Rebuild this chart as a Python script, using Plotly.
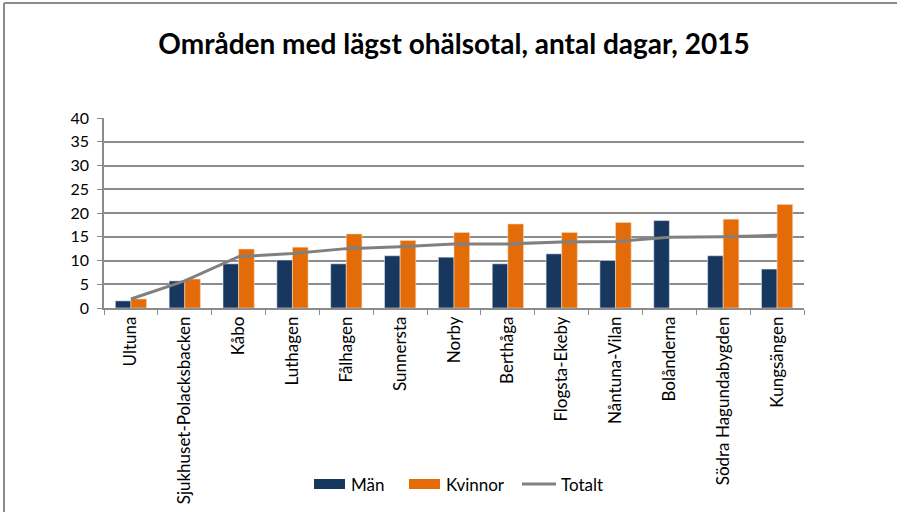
import plotly.graph_objects as go

categories = ["Ultuna", "Sjukhuset-Polacksbacken", "Kåbo", "Luthagen", "Fålhagen",
              "Sunnersta", "Norby", "Berthåga", "Flogsta-Ekeby", "Nåntuna-Vilan",
              "Bolånderna", "Södra Hagundabygden", "Kungsängen"]
man = [1.5, 5.7, 9.3, 10.1, 9.3, 11.0, 10.7, 9.3, 11.4, 10.0, 18.4, 11.0, 8.2]
kvinnor = [1.9, 6.1, 12.4, 12.8, 15.6, 14.2, 15.9, 17.7, 15.9, 18.0, None, 18.7, 21.8]
totalt = [1.9, 5.7, 10.8, 11.5, 12.5, 12.9, 13.5, 13.5, 13.9, 14.0, 14.9, 15.0, 15.3]
y_ticks = [0, 5, 10, 15, 20, 25, 30, 35, 40]

FONT = "Lato"
C_MAN = "#17375E"
C_KV = "#E36C09"
C_TOT = "#808080"

# plot area in pixels
L, R, T, B = 104, 804, 118, 308
W, H = R - L, B - T


def px(x):
    return (x - L) / W


def py(y):
    return (B - y) / H


fig = go.Figure()
fig.add_trace(go.Bar(name="Män", x=categories, y=man,
                     marker=dict(color=C_MAN, line=dict(color="#dfe6ee", width=0.6))))
fig.add_trace(go.Bar(name="Kvinnor", x=categories, y=kvinnor,
                     marker=dict(color=C_KV, line=dict(color="#f5d5bb", width=0.6))))
fig.add_trace(go.Scatter(name="Totalt", x=categories, y=totalt, mode="lines",
                         line=dict(color=C_TOT, width=3)))

fig.update_layout(
    width=897, height=512,
    paper_bgcolor="white", plot_bgcolor="white",
    margin=dict(l=L, r=897 - R, t=T, b=512 - B),
    barmode="group", bargap=0.42, bargroupgap=0,
    font=dict(family=FONT, size=14, color="black"),
    title=dict(text="<b>Områden med lägst ohälsotal, antal dagar, 2015</b>",
               x=0.5, xanchor="center", xref="paper", y=1 - 44 / 512, yanchor="middle",
               yref="container", font=dict(family=FONT, size=28, color="black")),
    showlegend=False,
)
fig.update_xaxes(type="category", showline=True, linecolor="#8c8c8c", linewidth=1.5,
                 ticks="outside", tickson="boundaries", ticklen=5, tickcolor="#8c8c8c",
                 tickangle=-90, showgrid=False, automargin=False,
                 tickfont=dict(family=FONT, size=17))
fig.update_yaxes(range=[0, 40], tickvals=y_ticks, showline=True, linecolor="#8c8c8c", linewidth=1.5,
                 ticks="outside", ticklen=5, tickcolor="#8c8c8c", automargin=False,
                 ticklabelstandoff=5,
                 showgrid=True, gridcolor="#8c8c8c", gridwidth=1.5, zeroline=False,
                 tickfont=dict(family=FONT, size=16))

# outer chart frame (cropped at right and bottom)
fig.add_shape(type="line", xref="paper", yref="paper", x0=px(4), x1=px(900),
              y0=py(3), y1=py(3), line=dict(color="#8c8c8c", width=2))
fig.add_shape(type="line", xref="paper", yref="paper", x0=px(4), x1=px(4),
              y0=py(3), y1=py(515), line=dict(color="#8c8c8c", width=2))

# legend drawn to match the reference swatches
ly = 484
legend_items = [("Män", "rect", C_MAN, 314, 345, 349),
                ("Kvinnor", "rect", C_KV, 409, 440, 444),
                ("Totalt", "line", C_TOT, 522, 556, 559)]
for name, kind, col, x0, x1, tx in legend_items:
    if kind == "rect":
        fig.add_shape(type="rect", xref="paper", yref="paper", x0=px(x0), x1=px(x1),
                      y0=py(ly + 5), y1=py(ly - 5), line=dict(width=0), fillcolor=col)
    else:
        fig.add_shape(type="line", xref="paper", yref="paper", x0=px(x0), x1=px(x1),
                      y0=py(ly), y1=py(ly), line=dict(color=col, width=3))
    fig.add_annotation(text=name, xref="paper", yref="paper", x=px(tx), y=py(ly),
                       xanchor="left", yanchor="middle", showarrow=False,
                       font=dict(family=FONT, size=17, color="black"))

fig.write_html("out.html", config={"displayModeBar": False},
               post_script="document.body.style.margin='0';")
